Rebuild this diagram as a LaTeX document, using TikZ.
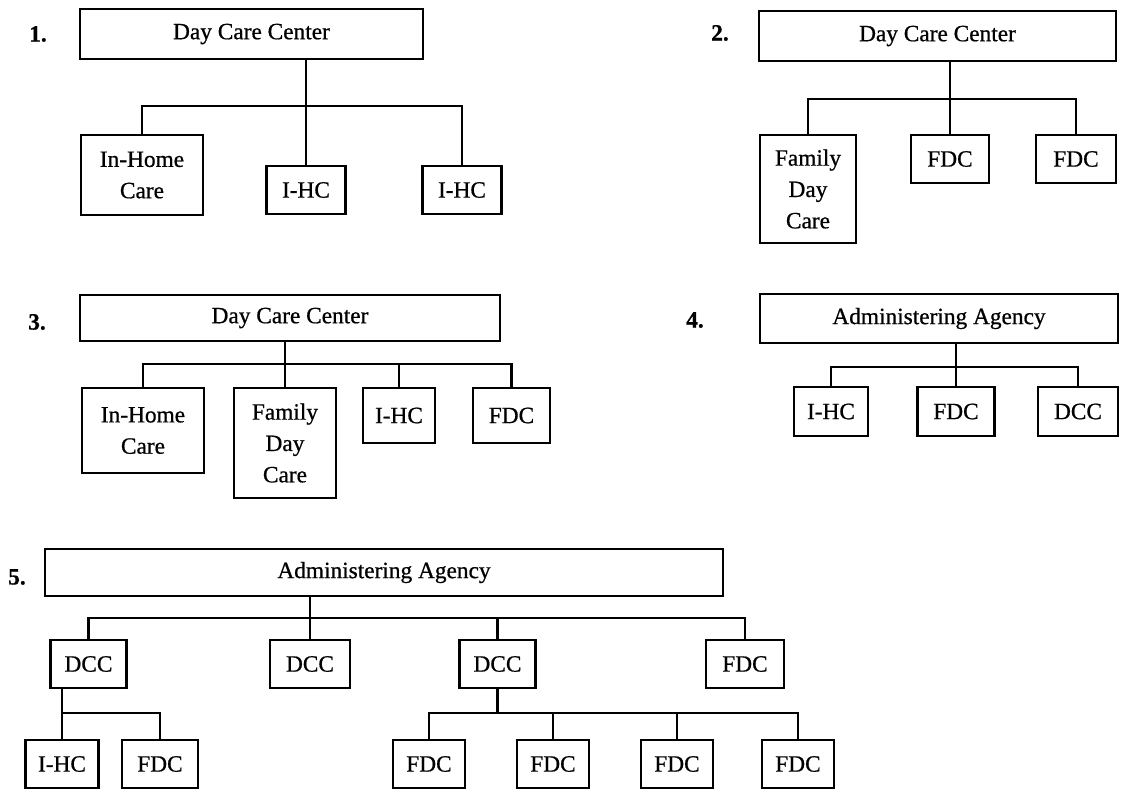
\documentclass[tikz,border=0pt]{standalone}
\usepackage{fontspec}
\setmainfont{Liberation Serif}
\newfontfamily\chartfont[FakeBold=0.7]{Liberation Serif}
\usepackage{tikz}
\usetikzlibrary{positioning}

\tikzset{
    box/.style 2 args={draw, line width=1.6pt, minimum width=#1*0.75pt, minimum height=#2*0.75pt, inner sep=0pt, align=center},
    unit/.style={box={76}{48}},
    link/.style={line width=1.6pt},
    num/.style={font=\chartfont\bfseries\fontsize{17.5}{23.5}\selectfont}
}

\begin{document}
\begin{tikzpicture}[x=0.75pt, y=-0.75pt, every node/.style={font=\chartfont\fontsize{17.5}{23.5}\selectfont}]
        \useasboundingbox (0,0) rectangle (1123,790);

        \node[num] (n1) at (38,34) {1.};
        \node[box={343}{50}] (top1) at (251.5,34) {Day Care Center};
        \node[box={122}{80}] (home1) at (142,175) {In-Home\\Care};
        \node[box={79}{48}] (ihc1a) at (306,190) {I-HC};
        \node[box={79}{48}] (ihc1b) at (462,190) {I-HC};
        \coordinate (bus1) at (306,106);
        \draw[link] (top1.south -| ihc1a) -- (ihc1a.north);
        \draw[link] (home1.north) |- (bus1) -| (ihc1b.north);

        \node[num] (n2) at (720,33) {2.};
        \node[box={357}{50}] (top2) at (937.5,36) {Day Care Center};
        \node[box={96}{108}] (fam2) at (808,189) {Family\\Day\\Care};
        \node[box={78}{48}] (fdc2a) at (950,159) {FDC};
        \node[box={80}{48}] (fdc2b) at (1076,159) {FDC};
        \coordinate (bus2) at (950,99);
        \draw[link] (top2.south -| fdc2a) -- (fdc2a.north);
        \draw[link] (fam2.north) |- (bus2) -| (fdc2b.north);

        \node[num] (n3) at (37,322) {3.};
        \node[box={420}{46}] (top3) at (290,318) {Day Care Center};
        \node[box={122}{85}] (home3) at (143,430.5) {In-Home\\Care};
        \node[box={102}{110}] (fam3) at (285,443) {Family\\Day\\Care};
        \node[box={72}{55}] (ihc3) at (399,415.5) {I-HC};
        \node[box={77}{55}] (fdc3) at (511.5,415.5) {FDC};
        \coordinate (bus3) at (285,364);
        \draw[link] (top3.south -| fam3) -- (fam3.north);
        \draw[link] (home3.north) |- (bus3) -| (fdc3.north);
        \draw[link] (ihc3.north) -- (ihc3.north |- bus3);

        \node[num] (n4) at (695,320) {4.};
        \node[box={358}{49}] (top4) at (939,318.5) {Administering Agency};
        \node[box={74}{49}] (ihc4) at (831,411.5) {I-HC};
        \node[box={77}{49}] (fdc4) at (956,411.5) {FDC};
        \node[box={80}{49}] (dcc4) at (1078,411.5) {DCC};
        \coordinate (bus4) at (956,367);
        \draw[link] (top4.south -| fdc4) -- (fdc4.north);
        \draw[link] (ihc4.north) |- (bus4) -| (dcc4.north);

        \node[num] (n5) at (17,577) {5.};
        \node[box={678}{47}] (top5) at (384,572.5) {Administering Agency};
        \node[unit] (dcc5a) at (88.5,664) {DCC};
        \node[box={80}{48}] (dcc5b) at (310,664) {DCC};
        \node[unit] (dcc5c) at (497.5,664) {DCC};
        \node[box={78}{48}] (fdc5) at (745,664) {FDC};
        \coordinate (bus5) at (310,618);
        \draw[link] (top5.south -| dcc5b) -- (dcc5b.north);
        \draw[link] (dcc5a.north) |- (bus5) -| (fdc5.north);
        \draw[link] (dcc5c.north) -- (dcc5c.north |- bus5);

        \node[box={73}{48}] (ihc5) at (62,764) {I-HC};
        \node[unit] (fdc5l) at (160,764) {FDC};
        \coordinate (sub5a) at (62,713);
        \draw[link] (dcc5a.south -| ihc5) -- (ihc5.north);
        \draw[link] (sub5a) -| (fdc5l.north);

        \foreach \i/\x in {1/429, 2/553, 3/677, 4/798} {
            \node[box={72}{48}] (fdcr\i) at (\x,764) {FDC};
        }
        \coordinate (sub5c) at (497.5,713);
        \draw[link] (dcc5c.south) -- (sub5c);
        \draw[link] (fdcr1.north) |- (sub5c) -| (fdcr4.north);
        \draw[link] (fdcr2.north) -- (fdcr2.north |- sub5c);
        \draw[link] (fdcr3.north) -- (fdcr3.north |- sub5c);
    \end{tikzpicture}
\end{document}
